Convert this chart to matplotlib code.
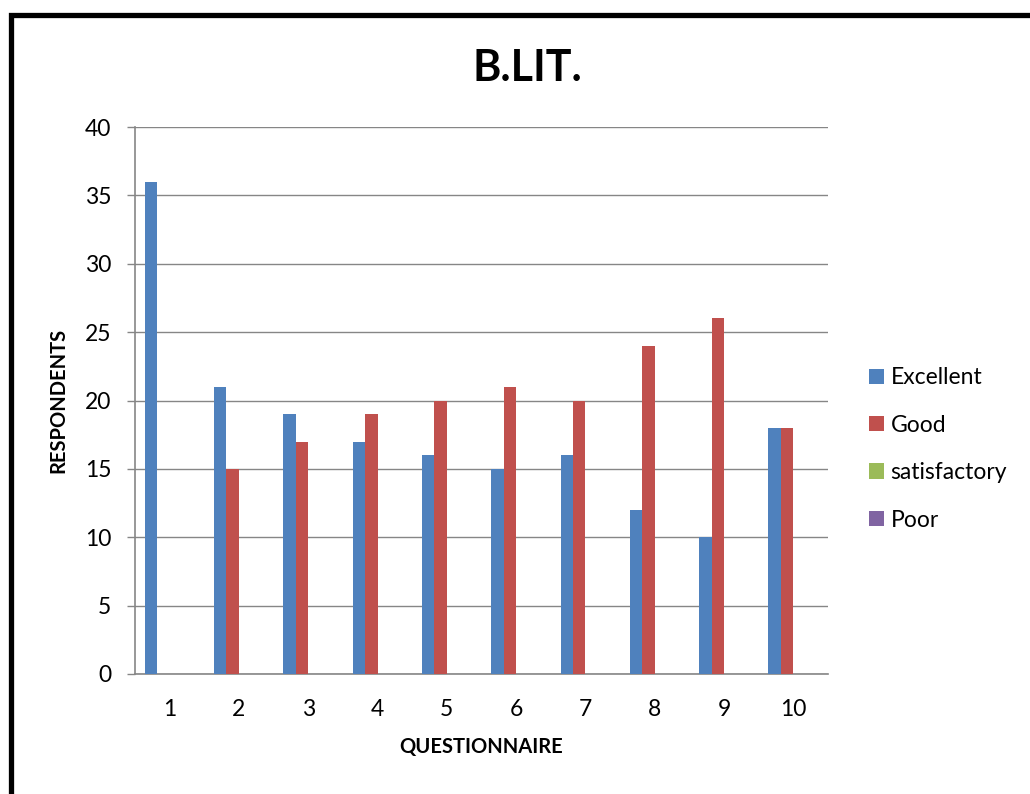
import matplotlib
matplotlib.use("Agg")
import matplotlib.pyplot as plt
from matplotlib.patches import Rectangle, Patch
import numpy as np

categories = ["1", "2", "3", "4", "5", "6", "7", "8", "9", "10"]
series_names = ["Excellent", "Good", "satisfactory", "Poor"]
excellent = [36, 21, 19, 17, 16, 15, 16, 12, 10, 18]
good = [0, 15, 17, 19, 20, 21, 20, 24, 26, 18]
satisfactory = [0, 0, 0, 0, 0, 0, 0, 0, 0, 0]
poor = [0, 0, 0, 0, 0, 0, 0, 0, 0, 0]
colors = ["#4F81BD", "#C0504D", "#9BBB59", "#8064A2"]
y_ticks = [0, 5, 10, 15, 20, 25, 30, 35, 40]

plt.rcParams['font.family'] = ['Lato', 'DejaVu Sans']

fig = plt.figure(figsize=(10.30, 7.94), dpi=100)
ax = fig.add_axes([135/1030, 1-674/794, (828-135)/1030, (674-127)/794])

x = np.arange(len(categories))
w = 0.18
offsets = [-1.5*w, -0.5*w, 0.5*w, 1.5*w]
for vals, off, c, name in zip([excellent, good, satisfactory, poor], offsets, colors, series_names):
    ax.bar(x + off, vals, width=w, color=c, label=name, zorder=3)

ax.set_xlim(-0.5, len(categories) - 0.5)
ax.set_ylim(0, 40)
ax.set_yticks(y_ticks)
ax.set_xticks(x)
ax.set_xticklabels(categories)
ax.tick_params(axis='y', length=6, width=1, color='#868686', pad=11, labelsize=16.5)
ax.tick_params(axis='x', length=0, pad=18, labelsize=16.5)
ax.grid(axis='y', color='#868686', linewidth=1, zorder=0)
for s in ['top', 'right']:
    ax.spines[s].set_visible(False)
for s in ['left', 'bottom']:
    ax.spines[s].set_color('#868686')
    ax.spines[s].set_linewidth(1.2)

ax.set_ylabel("RESPONDENTS", fontsize=14.5, fontweight='bold', labelpad=12)
ax.set_xlabel("QUESTIONNAIRE", fontsize=14.5, fontweight='bold', labelpad=12)
fig.text(527/1030, 1-68/794, "B.LIT.", fontsize=31, fontweight='bold', ha='center', va='center')

handles = [Patch(facecolor=c, label=n) for c, n in zip(colors, series_names)]
fig.legend(handles=handles, loc='center left', bbox_to_anchor=(848/1030, 1-449/794),
           frameon=False, fontsize=16.5, handlelength=0.65, handleheight=0.65,
           handletextpad=0.3, labelspacing=1.15)

fig.add_artist(Rectangle((10.5/1030, -0.2), 1.2, 1.2 - 14.5/794, transform=fig.transFigure,
                         fill=False, edgecolor='black', linewidth=3.8, clip_on=False))

fig.savefig("out.png", dpi=100)
